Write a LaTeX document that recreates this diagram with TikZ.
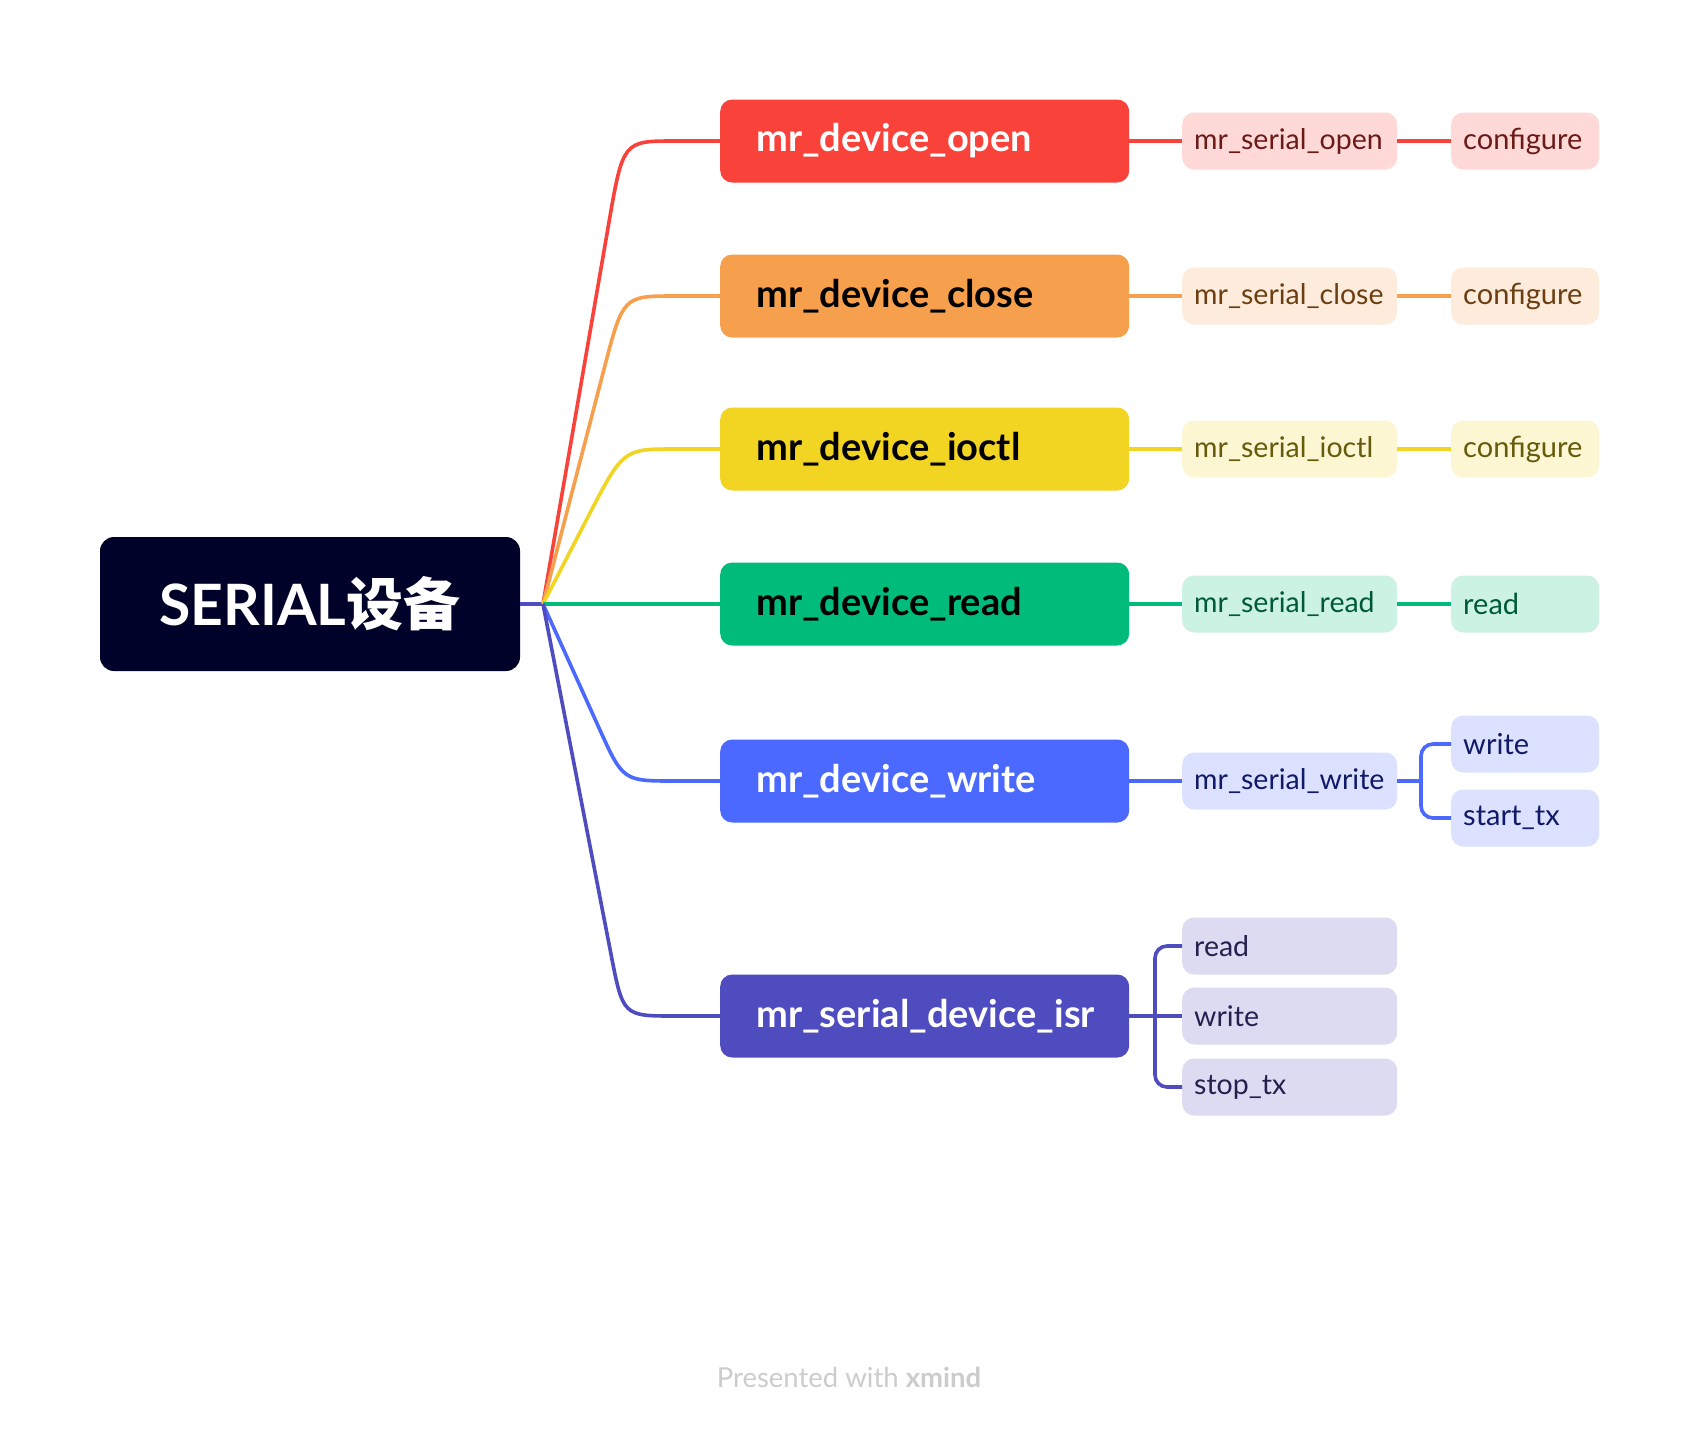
\documentclass[tikz,border=0pt]{standalone}
\usepackage{fontspec}
\setmainfont{Lato}
\newfontfamily\cjk{Noto Sans CJK SC}
\usetikzlibrary{calc}
\definecolor{rootc}{HTML}{000229}
\definecolor{cRed}{HTML}{F9423A}\definecolor{lRed}{HTML}{FFD9D8}\definecolor{tRed}{HTML}{6B1B17}
\definecolor{cOra}{HTML}{F6A04D}\definecolor{lOra}{HTML}{FDECDB}\definecolor{tOra}{HTML}{6B3F12}
\definecolor{cYel}{HTML}{F2D422}\definecolor{lYel}{HTML}{FCF6D3}\definecolor{tYel}{HTML}{665A0B}
\definecolor{cGre}{HTML}{00BC7B}\definecolor{lGre}{HTML}{CCF2E4}\definecolor{tGre}{HTML}{005A3A}
\definecolor{cBlu}{HTML}{4B69FF}\definecolor{lBlu}{HTML}{DBE1FF}\definecolor{tBlu}{HTML}{101A66}
\definecolor{cPur}{HTML}{4F4CC0}\definecolor{lPur}{HTML}{DCDBF2}\definecolor{tPur}{HTML}{23224F}
\definecolor{footc}{HTML}{CCCCCC}
\tikzset{
  mainbox/.style={rounded corners=12pt, minimum height=83pt, text width=337pt, inner xsep=36pt, inner ysep=0pt, align=left, anchor=west, font=\fontsize{38}{42}\selectfont\bfseries},
  subbox/.style={rounded corners=12pt, minimum height=57pt, text width=191pt, inner xsep=12pt, inner ysep=0pt, align=left, anchor=west, font=\fontsize{28.5}{32}\selectfont},
  leafbox/.style={rounded corners=12pt, minimum height=57pt, text width=124pt, inner xsep=12pt, inner ysep=0pt, align=left, anchor=west, font=\fontsize{29}{32}\selectfont},
  link/.style={line width=3.6pt},
}
\begin{document}
\begin{tikzpicture}[x=1pt,y=-1pt]
\useasboundingbox[fill=white] (0,0) rectangle (1700,1428);
% root
\node[fill=rootc, text=white, rounded corners=14pt, minimum width=420pt, minimum height=134pt, inner sep=0pt, font=\fontsize{57}{60}\selectfont\bfseries] (root) at (310,604) {SERIAL{\cjk\bfseries 设备}};
\coordinate (J) at (543,604);
% main nodes
\node[mainbox, fill=cRed, text=white] (mo) at (720,141) {mr\_device\_open};
\node[mainbox, fill=cOra, text=black] (mc) at (720,296) {mr\_device\_close};
\node[mainbox, fill=cYel, text=black] (mi) at (720,449) {mr\_device\_ioctl};
\node[mainbox, fill=cGre, text=black] (mr) at (720,604) {mr\_device\_read};
\node[mainbox, fill=cBlu, text=white] (mw) at (720,781) {mr\_device\_write};
\node[mainbox, fill=cPur, text=white] (ms) at (720,1016) {mr\_serial\_device\_isr};
% second level
\node[subbox, fill=lRed, text=tRed] (so) at (1182,141) {mr\_serial\_open};
\node[subbox, fill=lOra, text=tOra] (sc) at (1182,296) {mr\_serial\_close};
\node[subbox, fill=lYel, text=tYel] (si) at (1182,449) {mr\_serial\_ioctl};
\node[subbox, fill=lGre, text=tGre] (sr) at (1182,604) {mr\_serial\_read};
\node[subbox, fill=lBlu, text=tBlu] (sw) at (1182,781) {mr\_serial\_write};
\node[subbox, fill=lPur, text=tPur] (ir) at (1182,946) {read};
\node[subbox, fill=lPur, text=tPur] (iw) at (1182,1016) {write};
\node[subbox, fill=lPur, text=tPur] (is) at (1182,1087) {stop\_tx};
% third level
\node[leafbox, fill=lRed, text=tRed] (to) at (1451,141) {configure};
\node[leafbox, fill=lOra, text=tOra] (tc) at (1451,296) {configure};
\node[leafbox, fill=lYel, text=tYel] (ti) at (1451,449) {configure};
\node[leafbox, fill=lGre, text=tGre] (tr) at (1451,604) {read};
\node[leafbox, fill=lBlu, text=tBlu] (tw) at (1451,744) {write};
\node[leafbox, fill=lBlu, text=tBlu] (tt) at (1451,818) {start\_tx};
% root connectors
\draw[link, cPur] (root.east) -- (J);
\draw[link, cRed] (J) -- ($(J)!0.82!(623,141)$) .. controls (623,141) .. (675,141) -- (mo.west);
\draw[link, cOra] (J) -- ($(J)!0.76!(623,296)$) .. controls (623,296) .. (675,296) -- (mc.west);
\draw[link, cYel] (J) -- ($(J)!0.55!(623,449)$) .. controls (623,449) .. (675,449) -- (mi.west);
\draw[link, cGre] (J) -- (mr.west);
\draw[link, cBlu] (J) -- ($(J)!0.7!(623,781)$) .. controls (623,781) .. (675,781) -- (mw.west);
\draw[link, cPur] (J) -- ($(J)!0.85!(623,1016)$) .. controls (623,1016) .. (675,1016) -- (ms.west);
% second connectors
\draw[link, cRed] (mo.east) -- (so.west);
\draw[link, cRed] (so.east) -- (to.west);
\draw[link, cOra] (mc.east) -- (sc.west);
\draw[link, cOra] (sc.east) -- (tc.west);
\draw[link, cYel] (mi.east) -- (si.west);
\draw[link, cYel] (si.east) -- (ti.west);
\draw[link, cGre] (mr.east) -- (sr.west);
\draw[link, cGre] (sr.east) -- (tr.west);
\draw[link, cBlu] (mw.east) -- (sw.west);
\coordinate (bw) at (1421,781);
\draw[link, cBlu] (sw.east) -- (bw);
\draw[link, cBlu, rounded corners=12pt] (bw) |- (tw.west);
\draw[link, cBlu, rounded corners=12pt] (bw) |- (tt.west);
\coordinate (bi) at (1155,1016);
\draw[link, cPur] (ms.east) -- (iw.west);
\draw[link, cPur, rounded corners=12pt] (bi) |- (ir.west);
\draw[link, cPur, rounded corners=12pt] (bi) |- (is.west);
% footer
\node[text=footc, font=\fontsize{27.5}{30}\selectfont] (foot) at (849,1377) {Presented with \textbf{xmind}};
\end{tikzpicture}
\end{document}
